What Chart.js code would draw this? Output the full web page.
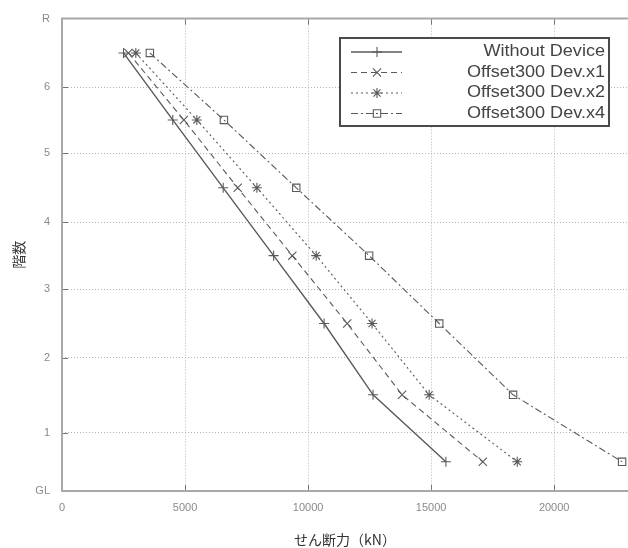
<!DOCTYPE html>
<html>
<head>
<meta charset="utf-8">
<script src="https://cdn.jsdelivr.net/npm/chart.js@4.4.1/dist/chart.umd.min.js"></script>
<style>
  html, body { margin: 0; padding: 0; background: #fff; overflow: hidden; }
  #wrap { width: 628px; height: 548px; }
</style>
</head>
<body>
<div id="wrap"><canvas id="c" width="628" height="548"></canvas></div>
<script>
// Story mid-heights (m) where the shear values are plotted, top story first
const storyHeight = [25.5, 21.6, 17.65, 13.7, 9.75, 5.6, 1.7];
// Floor levels (m) and their labels on the vertical axis
const floorLevels = [0, 3.4, 7.75, 11.75, 15.65, 19.65, 23.5, 27.5];
const floorLabels = ['GL', '1', '2', '3', '4', '5', '6', 'R'];
// Shear force ticks (kN)
const shearTicks = [0, 5000, 10000, 15000, 20000];
const shearMax = 23000;

const seriesNames = ['Without Device', 'Offset300 Dev.x1', 'Offset300 Dev.x2', 'Offset300 Dev.x4'];
// Story shear (kN), top story first
const shearWithout = [2500, 4500, 6550, 8600, 10650, 12640, 15600];
const shearDevX1   = [2700, 4950, 7140, 9360, 11590, 13820, 17100];
const shearDevX2   = [3000, 5480, 7920, 10330, 12600, 14920, 18500];
const shearDevX4   = [3570, 6580, 9520, 12480, 15330, 18330, 22760];

const lineColor = '#5a5a5a';
const styles = [
  { dash: [],           marker: 'cross',    radius: 5,   width: 1.4 },
  { dash: [6, 4],       marker: 'crossRot', radius: 5.8, width: 1.1 },
  { dash: [2, 3],       marker: 'star',     radius: 5,   width: 1.1 },
  { dash: [7, 3, 2, 3], marker: 'rect',     radius: 5.2, width: 1.1 }
];
const seriesValues = [shearWithout, shearDevX1, shearDevX2, shearDevX4];

const datasets = seriesValues.map((vals, i) => ({
  label: seriesNames[i],
  data: vals.map((v, k) => ({ x: v, y: storyHeight[k] })),
  showLine: true,
  borderColor: lineColor,
  borderWidth: styles[i].width,
  borderDash: styles[i].dash,
  pointStyle: styles[i].marker,
  pointRadius: styles[i].radius,
  pointHoverRadius: styles[i].radius,
  pointBorderColor: lineColor,
  pointBackgroundColor: 'rgba(0,0,0,0)',
  pointBorderWidth: 1.1,
  tension: 0
}));

// Plot frame with inward tick marks
const framePlugin = {
  id: 'frame',
  afterDraw(chart) {
    const { ctx, chartArea: a, scales: { x, y } } = chart;
    ctx.save();
    ctx.setLineDash([]);
    ctx.strokeStyle = '#777';
    ctx.lineWidth = 1;
    floorLevels.slice(1, -1).forEach(v => {
      const py = Math.round(y.getPixelForValue(v)) + 0.5;
      ctx.beginPath(); ctx.moveTo(a.left, py); ctx.lineTo(a.left + 6, py); ctx.stroke();
    });
    shearTicks.slice(1).forEach(v => {
      const px = Math.round(x.getPixelForValue(v)) + 0.5;
      ctx.beginPath(); ctx.moveTo(px, a.bottom); ctx.lineTo(px, a.bottom - 6); ctx.stroke();
      ctx.beginPath(); ctx.moveTo(px, a.top); ctx.lineTo(px, a.top + 6); ctx.stroke();
    });
    ctx.strokeStyle = '#a8a8a8';
    ctx.lineWidth = 2;
    ctx.beginPath();
    ctx.moveTo(a.right, a.top);
    ctx.lineTo(a.left, a.top);
    ctx.lineTo(a.left, a.bottom);
    ctx.lineTo(a.right, a.bottom);
    ctx.stroke();
    ctx.restore();
  }
};

// Boxed legend inside the plot area
const boxLegendPlugin = {
  id: 'boxLegend',
  afterDraw(chart) {
    const ctx = chart.ctx;
    const box = { left: 340, top: 38, right: 609, bottom: 126 };
    const rowY = [52, 72.5, 93, 113.5];
    ctx.save();
    ctx.fillStyle = '#fff';
    ctx.fillRect(box.left, box.top, box.right - box.left, box.bottom - box.top);
    ctx.strokeStyle = '#4a4a4a';
    ctx.lineWidth = 2;
    ctx.setLineDash([]);
    ctx.strokeRect(box.left, box.top, box.right - box.left, box.bottom - box.top);
    chart.data.datasets.forEach((ds, i) => {
      const yy = rowY[i];
      ctx.strokeStyle = lineColor;
      ctx.lineWidth = ds.borderWidth;
      ctx.setLineDash(ds.borderDash);
      ctx.beginPath(); ctx.moveTo(351, yy); ctx.lineTo(402, yy); ctx.stroke();
      ctx.setLineDash([]);
      ctx.lineWidth = 1.1;
      ctx.fillStyle = 'rgba(0,0,0,0)';
      Chart.helpers.drawPoint(ctx, { pointStyle: ds.pointStyle, radius: ds.pointRadius, borderWidth: 1.1, rotation: 0 }, 377, yy);
      ctx.fillStyle = '#444';
      ctx.font = '16px "Liberation Sans", Arial, sans-serif';
      ctx.textAlign = 'right';
      ctx.textBaseline = 'middle';
      ctx.save();
      ctx.translate(605, yy);
      ctx.scale(1.13, 1);
      ctx.fillText(ds.label, 0, 0);
      ctx.restore();
    });
    ctx.restore();
  }
};

const bgPlugin = {
  id: 'bg',
  beforeDraw(chart) {
    const ctx = chart.ctx;
    ctx.save();
    ctx.fillStyle = '#fff';
    ctx.fillRect(0, 0, chart.width, chart.height);
    ctx.restore();
  }
};

new Chart(document.getElementById('c'), {
  type: 'scatter',
  data: { datasets },
  plugins: [bgPlugin, framePlugin, boxLegendPlugin],
  options: {
    responsive: false,
    animation: false,
    layout: { autoPadding: false, padding: { top: 16, right: 0, left: 0, bottom: 0 } },
    plugins: { legend: { display: false }, tooltip: { enabled: false } },
    scales: {
      x: {
        type: 'linear',
        min: 0,
        max: shearMax,
        afterBuildTicks(scale) { scale.ticks = shearTicks.map(v => ({ value: v })); },
        afterFit(scale) { scale.height = 57; },
        grid: { color: '#b5b5b5', lineWidth: 1, drawTicks: false },
        border: { display: false, dash: [1, 2] },
        ticks: {
          padding: 10,
          color: '#8a8a8a',
          font: { family: '"Liberation Sans", Arial, sans-serif', size: 11 },
          maxRotation: 0,
          callback: v => String(v)
        },
        title: {
          display: true,
          text: 'せん断力（kN）',
          color: '#333',
          font: { family: '"Noto Sans CJK JP", sans-serif', size: 14 },
          padding: { top: 0, bottom: 0 }
        }
      },
      y: {
        type: 'linear',
        min: 0,
        max: floorLevels[floorLevels.length - 1],
        afterBuildTicks(scale) { scale.ticks = floorLevels.map(v => ({ value: v })); },
        afterFit(scale) { scale.width = 62; },
        grid: { color: '#b5b5b5', lineWidth: 1, drawTicks: false },
        border: { display: false, dash: [1, 2] },
        ticks: {
          padding: 12,
          color: '#8a8a8a',
          font: { family: '"Liberation Sans", Arial, sans-serif', size: 11 },
          callback: (v) => {
            const i = floorLevels.indexOf(v);
            return i >= 0 ? floorLabels[i] : '';
          }
        },
        title: {
          display: true,
          text: '階数',
          color: '#333',
          font: { family: '"Noto Sans CJK JP", sans-serif', size: 14 },
          padding: { top: 10, bottom: 0 }
        }
      }
    }
  }
});
</script>
</body>
</html>
